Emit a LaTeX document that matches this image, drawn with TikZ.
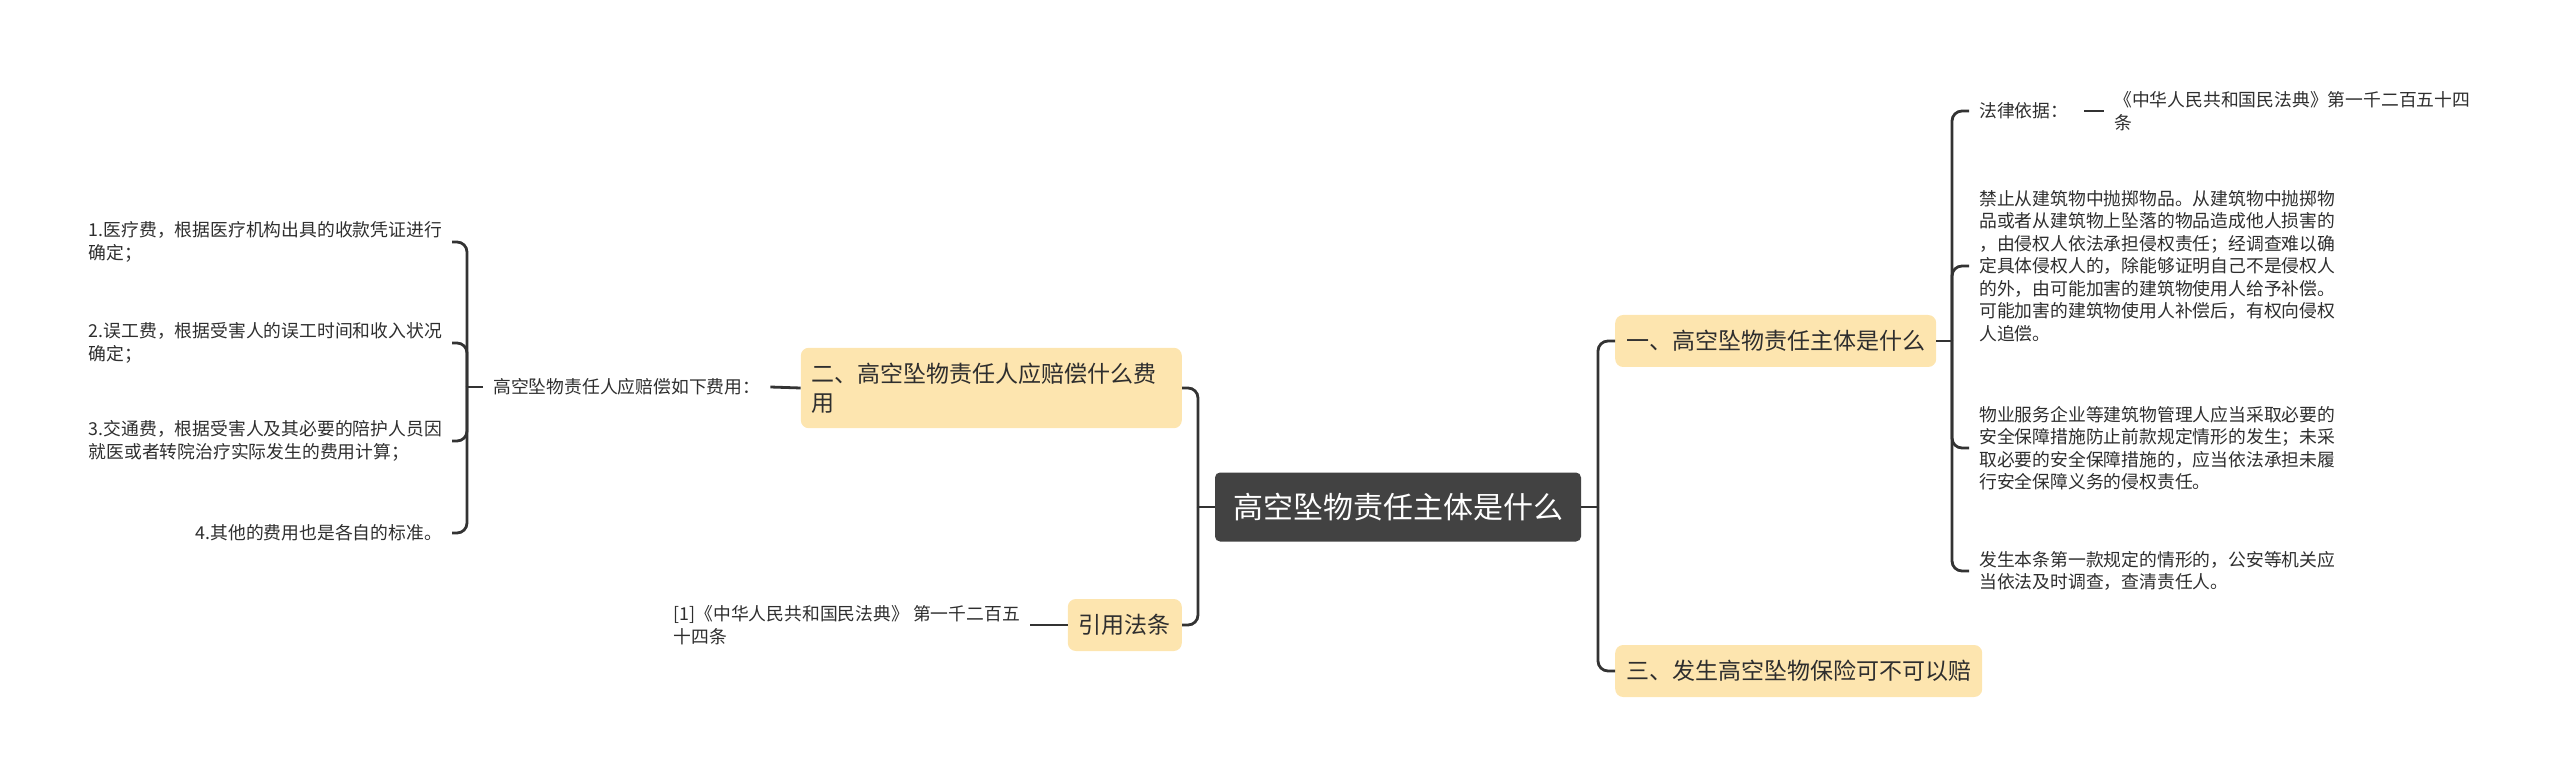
\documentclass[tikz,border=0pt]{standalone}
\usepackage{fontspec}
\setmainfont{Noto Sans CJK SC}
\definecolor{rootfill}{HTML}{424242}
\definecolor{topicfill}{HTML}{FDE5AF}
\definecolor{inkdark}{HTML}{2E2E2E}
\definecolor{linkgray}{HTML}{333333}

\begin{document}
\begin{tikzpicture}[x=1pt,y=-1pt,
    rootbox/.style={fill=rootfill,text=white,rounded corners=5pt,
        font=\fontsize{30}{36}\selectfont,inner xsep=18pt,minimum height=69pt},
    topic/.style={fill=topicfill,text=inkdark,rounded corners=8pt,align=left,
        font=\fontsize{23}{29}\selectfont,inner xsep=11pt,inner ysep=15pt,minimum height=52pt},
    leaf/.style={text=inkdark,align=left,font=\fontsize{17.8}{22.5}\selectfont,
        inner xsep=10pt,inner ysep=2pt},
    link/.style={draw=linkgray,line width=2.8pt,rounded corners=10pt}]
    \useasboundingbox (0,0) rectangle (2560,775);

    % 中心主题
    \node[rootbox] (root) at (1398,507) {高空坠物责任主体是什么};

    % 右侧的两个分支
    \node[topic,anchor=west] (one) at (1615,341) {一、高空坠物责任主体是什么};
    \node[topic,anchor=west] (three) at (1615,671) {三、发生高空坠物保险可不可以赔};
    \coordinate (jr) at (1598,507);
    \draw[link] (root.east) -- (jr);
    \draw[link] (jr) |- (one.west);
    \draw[link] (jr) |- (three.west);

    % 左侧的两个分支
    \node[topic,anchor=east,text width=359pt] (two) at (1182,388)
        {二、高空坠物责任人应赔偿什么费\\用};
    \node[topic,anchor=east] (cite) at (1182,625) {引用法条};
    \coordinate (jm) at (1198,507);
    \draw[link] (root.west) -- (jm);
    \draw[link] (jm) |- (two.east);
    \draw[link] (jm) |- (cite.east);

    % 赔偿费用
    \node[leaf,anchor=west] (fees) at (483,387) {高空坠物责任人应赔偿如下费用：};
    \draw[link] (two.west) -- (fees.east);
    \coordinate (jl) at (467,387);
    \draw[link] (fees.west) -- (jl);
    \node[leaf,anchor=east] (fee1) at (452,242)
        {1.医疗费，根据医疗机构出具的收款凭证进行\\确定；};
    \node[leaf,anchor=east] (fee2) at (452,343)
        {2.误工费，根据受害人的误工时间和收入状况\\确定；};
    \node[leaf,anchor=east] (fee3) at (452,441)
        {3.交通费，根据受害人及其必要的陪护人员因\\就医或者转院治疗实际发生的费用计算；};
    \node[leaf,anchor=east] (fee4) at (452,533) {4.其他的费用也是各自的标准。};
    \foreach \n in {fee1,fee2,fee3,fee4}{
        \draw[link] (jl) |- (\n.east);
    }

    % 引用的法条
    \node[leaf,anchor=east] (ref) at (1030,625)
        {[1]《中华人民共和国民法典》 第一千二百五\\十四条};
    \draw[link] (cite.west) -- (ref.east);

    % 责任主体的说明
    \coordinate (j1) at (1952,341);
    \draw[link] (one.east) -- (j1);
    \node[leaf,anchor=west] (basis) at (1969,111) {法律依据：};
    \node[leaf,anchor=west] (code) at (2104,111)
        {《中华人民共和国民法典》第一千二百五十四\\条};
    \draw[link,shorten <=6pt] (basis.east) -- (code.west);
    \node[leaf,anchor=west] (ban) at (1969,266)
        {禁止从建筑物中抛掷物品。从建筑物中抛掷物\\
         品或者从建筑物上坠落的物品造成他人损害的\\
         ，由侵权人依法承担侵权责任；经调查难以确\\
         定具体侵权人的，除能够证明自己不是侵权人\\
         的外，由可能加害的建筑物使用人给予补偿。\\
         可能加害的建筑物使用人补偿后，有权向侵权\\
         人追偿。};
    \node[leaf,anchor=west] (duty) at (1969,448)
        {物业服务企业等建筑物管理人应当采取必要的\\
         安全保障措施防止前款规定情形的发生；未采\\
         取必要的安全保障措施的，应当依法承担未履\\
         行安全保障义务的侵权责任。};
    \node[leaf,anchor=west] (police) at (1969,571)
        {发生本条第一款规定的情形的，公安等机关应\\当依法及时调查，查清责任人。};
    \foreach \n in {basis,ban,duty,police}{
        \draw[link] (j1) |- (\n.west);
    }
\end{tikzpicture}
\end{document}
